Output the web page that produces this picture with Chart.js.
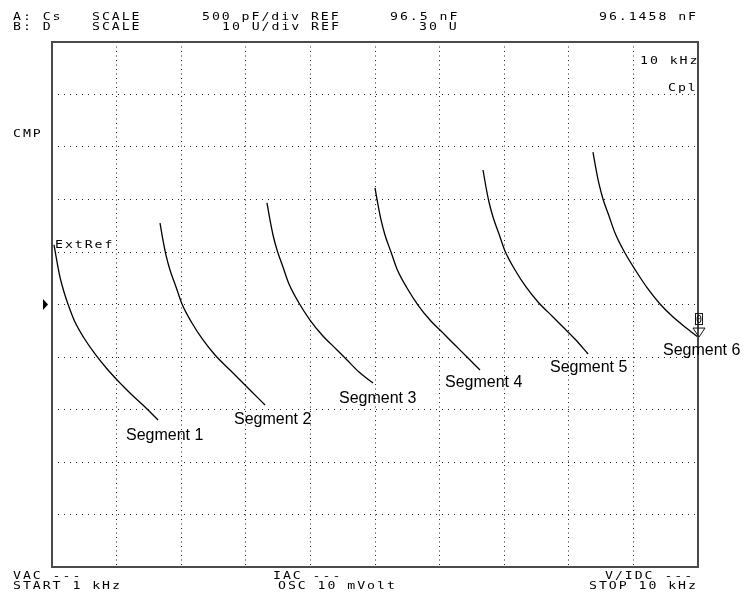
<!DOCTYPE html>
<html>
<head>
<meta charset="utf-8">
<script src="https://cdn.jsdelivr.net/npm/chart.js@4.4.3/dist/chart.umd.min.js"></script>
<style>
	html, body { margin: 0; padding: 0; background: #fff; }
	#wrap { width: 744px; height: 602px; }
</style>
</head>
<body>
<div id="wrap"><canvas id="chart" width="744" height="602"></canvas></div>
<script>
// Sweep 1 kHz .. 10 kHz, 10 divisions (kHz)
var xGridTicks = [1, 1.9, 2.8, 3.7, 4.6, 5.5, 6.4, 7.3, 8.2, 9.1, 10];
// Cs axis: REF 96.5 nF, 500 pF/div (nF)
var yGridTicks = [94, 94.5, 95, 95.5, 96, 96.5, 97, 97.5, 98, 98.5, 99];
var refValue = 96.5;

// Segment sweeps: frequency (kHz) and Cs (nF)
var seg1Freq = [1.028, 1.070, 1.111, 1.167, 1.237, 1.320, 1.446, 1.599, 1.780, 1.975, 2.115, 2.282, 2.477];
var seg1Cs   = [97.067, 96.905, 96.762, 96.619, 96.476, 96.333, 96.181, 96.029, 95.876, 95.733, 95.638, 95.533, 95.400];

var seg2Freq = [2.505, 2.546, 2.588, 2.644, 2.728, 2.811, 2.950, 3.104, 3.271, 3.480, 3.619, 3.786, 3.968];
var seg2Cs   = [97.276, 97.114, 96.971, 96.829, 96.667, 96.505, 96.324, 96.162, 96.019, 95.876, 95.781, 95.667, 95.543];

var seg3Freq = [3.995, 4.037, 4.079, 4.135, 4.218, 4.302, 4.441, 4.594, 4.762, 4.971, 5.110, 5.277, 5.472];
var seg3Cs   = [97.467, 97.305, 97.162, 97.019, 96.857, 96.695, 96.514, 96.352, 96.210, 96.067, 95.971, 95.857, 95.752];

var seg4Freq = [5.500, 5.542, 5.584, 5.639, 5.723, 5.806, 5.946, 6.099, 6.266, 6.475, 6.614, 6.782, 6.963];
var seg4Cs   = [97.610, 97.448, 97.305, 97.162, 97.000, 96.838, 96.657, 96.495, 96.352, 96.210, 96.114, 96.000, 95.876];

var seg5Freq = [7.005, 7.046, 7.088, 7.144, 7.228, 7.311, 7.451, 7.604, 7.771, 7.980, 8.119, 8.286, 8.468];
var seg5Cs   = [97.781, 97.619, 97.476, 97.333, 97.171, 97.010, 96.829, 96.667, 96.524, 96.381, 96.286, 96.171, 96.029];

var seg6Freq = [8.537, 8.579, 8.621, 8.676, 8.760, 8.844, 8.983, 9.136, 9.303, 9.471, 9.638, 9.819, 10.000];
var seg6Cs   = [97.952, 97.790, 97.648, 97.505, 97.343, 97.181, 96.990, 96.819, 96.648, 96.505, 96.390, 96.286, 96.190];

var segLabels = ['Segment 1', 'Segment 2', 'Segment 3', 'Segment 4', 'Segment 5', 'Segment 6'];

var segFreqs = [seg1Freq, seg2Freq, seg3Freq, seg4Freq, seg5Freq, seg6Freq];
var segCs    = [seg1Cs, seg2Cs, seg3Cs, seg4Cs, seg5Cs, seg6Cs];

var MONO = '11px "DejaVu Sans Mono", "Liberation Mono", monospace';
var PITCH = 9.9;

function pts(xs, ys) {
	return xs.map(function (x, i) { return { x: x, y: ys[i] }; });
}

// fixed-pitch, slightly widened text, like the analyzer's bitmap font
function drawMono(ctx, text, x, y) {
	for (var i = 0; i < text.length; i++) {
		ctx.save();
		ctx.translate(x + i * PITCH, y);
		ctx.scale(1.2, 1);
		ctx.fillText(text[i], 0, 0);
		ctx.restore();
	}
}

var screenPlugin = {
	id: 'screen',
	afterDraw: function (chart) {
		var ctx = chart.ctx;
		var a = chart.chartArea;
		var xs = chart.scales.x, ys = chart.scales.y;

		ctx.save();
		// frame
		ctx.strokeStyle = '#4a4a4a';
		ctx.lineWidth = 2;
		ctx.strokeRect(a.left, a.top, a.right - a.left, a.bottom - a.top);

		ctx.fillStyle = '#000';
		ctx.font = MONO;
		ctx.textBaseline = 'alphabetic';

		// header
		drawMono(ctx, 'A: Cs', 13, 20);
		drawMono(ctx, 'SCALE', 92, 20);
		drawMono(ctx, '500 pF/div REF', 202, 20);
		drawMono(ctx, '96.5 nF', 390, 20);
		drawMono(ctx, '96.1458 nF', 599, 20);
		drawMono(ctx, 'B: D', 13, 30);
		drawMono(ctx, 'SCALE', 92, 30);
		drawMono(ctx, '10 U/div REF', 222, 30);
		drawMono(ctx, '30 U', 419, 30);

		// in-screen annotations
		drawMono(ctx, '10 kHz', 640, 64);
		drawMono(ctx, 'Cpl', 668, 91);
		drawMono(ctx, 'CMP', 13, 137);
		drawMono(ctx, 'ExtRef', 55, 248);

		// footer
		drawMono(ctx, 'VAC ---', 13, 579);
		drawMono(ctx, 'START 1 kHz', 13, 589);
		drawMono(ctx, 'IAC ---', 273, 579);
		drawMono(ctx, 'OSC 10 mVolt', 278, 589);
		drawMono(ctx, 'V/IDC ---', 605, 579);
		drawMono(ctx, 'STOP 10 kHz', 589, 589);

		// reference level marker
		var ry = ys.getPixelForValue(refValue);
		ctx.beginPath();
		ctx.moveTo(a.left - 9, ry - 5.5);
		ctx.lineTo(a.left - 4, ry);
		ctx.lineTo(a.left - 9, ry + 5.5);
		ctx.closePath();
		ctx.fill();

		// segment labels
		ctx.font = '16px "Liberation Sans", Arial, sans-serif';
		var labelPos = [[126, 440], [234, 424], [339, 403], [445, 387], [550, 372], [663, 355]];
		segLabels.forEach(function (t, i) {
			ctx.fillText(t, labelPos[i][0], labelPos[i][1]);
		});

		// marker 0 at the sweep end
		var mx = xs.getPixelForValue(seg6Freq[seg6Freq.length - 1]) + 1;
		var my = ys.getPixelForValue(seg6Cs[seg6Cs.length - 1]);
		ctx.strokeStyle = '#111';
		ctx.lineWidth = 1;
		ctx.beginPath();
		ctx.moveTo(mx - 6, my - 9);
		ctx.lineTo(mx + 6, my - 9);
		ctx.lineTo(mx, my);
		ctx.closePath();
		ctx.stroke();
		ctx.strokeRect(mx - 3.5, my - 23.5, 7, 11);
		ctx.font = '10px "DejaVu Sans Mono", monospace';
		ctx.textAlign = 'center';
		ctx.fillText('0', mx, my - 14);
		ctx.restore();
	}
};

var datasets = segFreqs.map(function (f, i) {
	return {
		label: segLabels[i],
		data: pts(f, segCs[i]),
		showLine: true,
		borderColor: '#000',
		borderWidth: 1.3,
		pointRadius: 0,
		cubicInterpolationMode: 'monotone',
		fill: false
	};
});

new Chart(document.getElementById('chart'), {
	type: 'scatter',
	data: { datasets: datasets },
	options: {
		responsive: false,
		animation: false,
		devicePixelRatio: 1,
		layout: { padding: { left: 52, top: 42, right: 46, bottom: 35 } },
		plugins: { legend: { display: false }, tooltip: { enabled: false } },
		scales: {
			x: {
				type: 'linear',
				min: 1,
				max: 10,
				afterBuildTicks: function (s) { s.ticks = xGridTicks.map(function (v) { return { value: v }; }); },
				ticks: { display: false },
				grid: { color: '#222', lineWidth: 1, drawTicks: false },
				border: { display: false, dash: [1, 3.5] }
			},
			y: {
				type: 'linear',
				min: 94,
				max: 99,
				afterBuildTicks: function (s) { s.ticks = yGridTicks.map(function (v) { return { value: v }; }); },
				ticks: { display: false },
				grid: { color: '#222', lineWidth: 1, drawTicks: false },
				border: { display: false, dash: [1, 5] }
			}
		}
	},
	plugins: [screenPlugin]
});
</script>
</body>
</html>
